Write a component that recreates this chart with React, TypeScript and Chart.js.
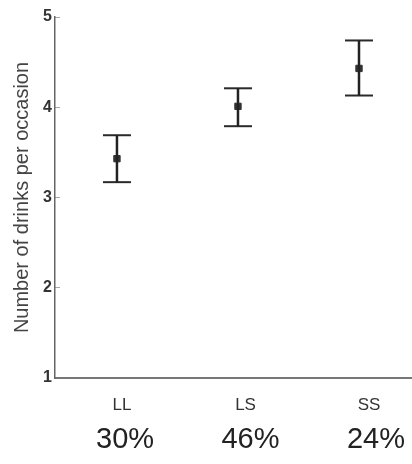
import React, { useEffect, useRef } from 'react';
import { Chart, registerables } from 'chart.js';
Chart.register(...registerables);

const categories = ['LL', 'LS', 'SS'];
const shares = ['30%', '46%', '24%'];
const means = [3.43, 4.01, 4.43];
const upper = [3.69, 4.21, 4.74];
const lower = [3.17, 3.79, 4.13];
const yTicks = [1, 2, 3, 4, 5];
const yTitle = 'Number of drinks per occasion';

const FONT = "'Liberation Sans', Arial, sans-serif";

const noSidePad = (s: any) => { s.paddingLeft = 0; s.paddingRight = 0; };

export default function App() {
  const ref = useRef<HTMLCanvasElement>(null);
  useEffect(() => {
    document.body.style.margin = '0';
    const canvas = ref.current!;
    const stems = categories.map((c, i) => ({
      label: c + ' range',
      data: [{ x: i, y: lower[i] }, { x: i, y: upper[i] }],
      showLine: true,
      borderColor: '#222',
      borderWidth: 2.5,
      pointRadius: 0,
      pointHoverRadius: 0,
    }));
    const chart = new Chart(canvas, {
      type: 'scatter',
      data: {
        datasets: [
          ...stems,
          {
            label: 'caps',
            data: categories.flatMap((c, i) => [{ x: i, y: upper[i] }, { x: i, y: lower[i] }]),
            pointStyle: 'line',
            pointRadius: 14,
            borderColor: '#2a2a2a',
            backgroundColor: '#2a2a2a',
            borderWidth: 2,
          },
          {
            label: 'mean',
            data: means.map((m, i) => ({ x: i, y: m })),
            pointStyle: 'rect',
            pointRadius: 4.5,
            borderColor: '#333',
            backgroundColor: '#333',
            borderWidth: 1,
          },
        ] as any,
      },
      options: {
        animation: false,
        responsive: false,
        layout: { autoPadding: false, padding: { top: 17, bottom: 6, left: 0, right: 0 } },
        plugins: { legend: { display: false }, tooltip: { enabled: false } },
        scales: {
          x: {
            type: 'linear',
            position: 'bottom',
            min: -0.512,
            max: 2.438,
            afterFit: (s: any) => { noSidePad(s); s.height = 0; },
            grid: { display: false, drawTicks: false },
            border: { display: true, color: '#777', width: 2 },
            ticks: { display: false },
          },
          xc: {
            type: 'linear',
            position: 'bottom',
            min: -0.543,
            max: 2.348,
            afterBuildTicks: (s: any) => { s.ticks = categories.map((_, i) => ({ value: i })); },
            afterFit: (s: any) => { noSidePad(s); s.height = 36; },
            grid: { display: false, drawTicks: false },
            border: { display: false },
            ticks: {
              autoSkip: false,
              maxRotation: 0,
              padding: 17,
              color: '#333',
              font: { family: FONT, size: 17 },
              callback: (v: any) => categories[v] ?? '',
            },
          },
          xp: {
            type: 'linear',
            position: 'bottom',
            min: -0.558,
            max: 2.287,
            afterBuildTicks: (s: any) => { s.ticks = shares.map((_, i) => ({ value: i })); },
            afterFit: (s: any) => { noSidePad(s); s.height = 44; },
            grid: { display: false, drawTicks: false },
            border: { display: false },
            ticks: {
              autoSkip: false,
              maxRotation: 0,
              padding: 9,
              color: '#222',
              font: { family: FONT, size: 29 },
              callback: (v: any) => shares[v] ?? '',
            },
          },
          y: {
            type: 'linear',
            min: yTicks[0],
            max: yTicks[yTicks.length - 1],
            afterBuildTicks: (s: any) => { s.ticks = yTicks.map((v) => ({ value: v })); },
            afterFit: (s: any) => { s.width = 55; s.paddingTop = 0; s.paddingBottom = 0; },
            grid: {
              display: true,
              drawOnChartArea: false,
              drawTicks: true,
              tickLength: -5,
              color: '#aaa',
              lineWidth: 1,
            },
            border: { display: true, color: '#666', width: 1.5 },
            ticks: {
              padding: 8,
              color: '#333',
              font: { family: FONT, size: 16, weight: 'bold' },
            },
            title: {
              display: true,
              text: yTitle,
              color: '#444',
              font: { family: FONT, size: 20 },
              padding: { top: 10, bottom: 0 },
            },
          },
        },
      } as any,
    });
    return () => chart.destroy();
  }, []);
  return (
    <canvas
      ref={ref}
      width={412}
      height={464}
      style={{ display: 'block', width: 412, height: 464 }}
    />
  );
}
